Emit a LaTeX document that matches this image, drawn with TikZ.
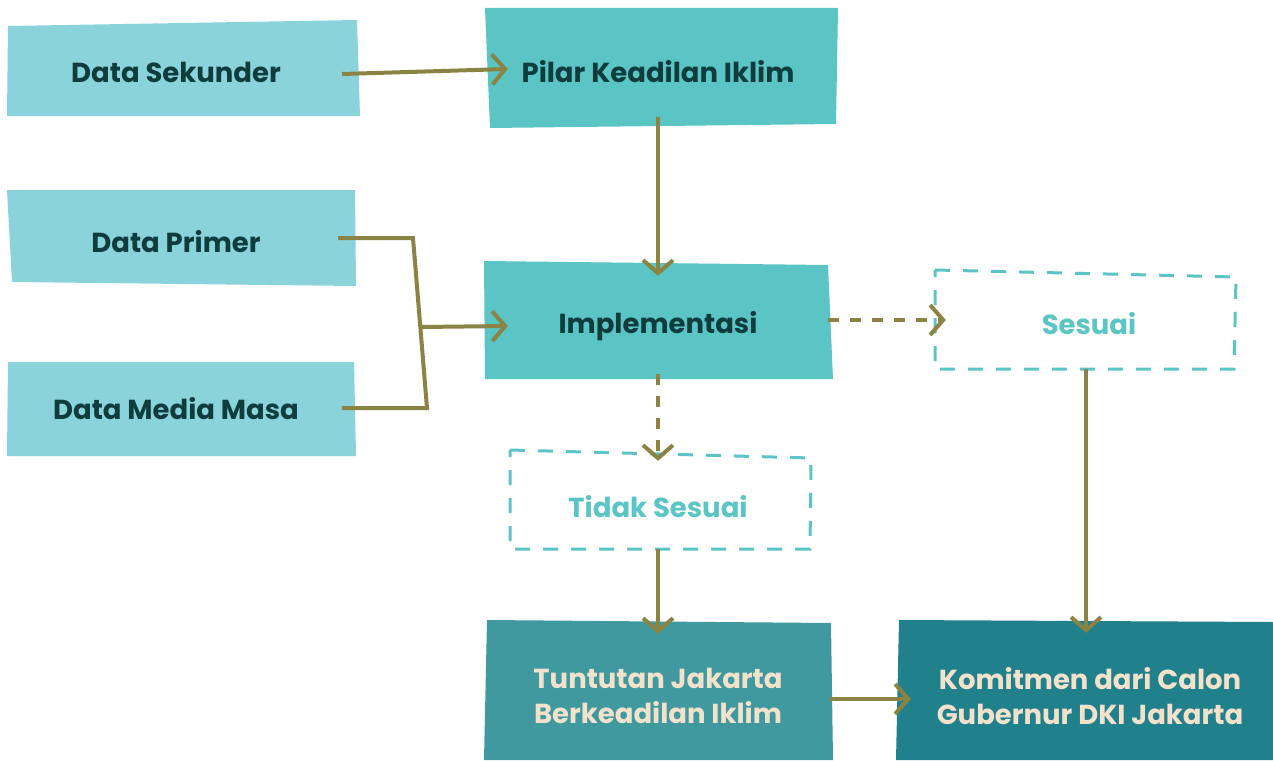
\documentclass[tikz,border=0pt]{standalone}
\usepackage{fontspec}
\setmainfont{Poppins}
\usetikzlibrary{arrows.meta}
\definecolor{lightbox}{HTML}{8AD3DB}
\definecolor{midbox}{HTML}{5BC5C5}
\definecolor{darkbox}{HTML}{3F999E}
\definecolor{deepbox}{HTML}{20808C}
\definecolor{olive}{HTML}{8B8343}
\definecolor{txtdark}{HTML}{0F3D3D}
\definecolor{cream}{HTML}{F3E2CB}
\tikzset{
  lbl/.style={font=\fontsize{27.5}{35}\selectfont\bfseries, align=center, inner sep=0pt, text=txtdark},
  conn/.style={draw=olive, line width=4pt, -{Straight Barb[length=13pt,width=30pt,line width=4pt]}},
  dconn/.style={conn, dash pattern=on 11pt off 11pt},
  plain/.style={draw=olive, line width=4pt, line join=miter},
  dbox/.style={draw=midbox, line width=3pt, dash pattern=on 15pt off 13pt},
}
\begin{document}
\begin{tikzpicture}[x=1pt,y=-1pt]
\useasboundingbox (0,0) rectangle (1273,760);
% box shapes
\fill[lightbox] (8,26) -- (357,20) -- (360,116) -- (7,116) -- cycle;
\fill[midbox] (485,8) -- (838,8) -- (836,124) -- (490,128) -- cycle;
\fill[lightbox] (7,190) -- (355,190) -- (356,286) -- (12,282) -- cycle;
\fill[lightbox] (8,362) -- (354,362) -- (356,456) -- (7,456) -- cycle;
\fill[midbox] (484,261) -- (828,265) -- (833,379) -- (485,379) -- cycle;
\draw[dbox] (935,270) -- (1236,277) -- (1234,369) -- (935,369) -- cycle;
\draw[dbox] (510,450) -- (811,458) -- (810,549) -- (510,549) -- cycle;
\fill[darkbox] (487,620) -- (831,623) -- (833,760) -- (484,760) -- cycle;
\fill[deepbox] (899,620) -- (1273,622) -- (1273,760) -- (896,760) -- cycle;
% nodes
\node[lbl, minimum width=346pt, minimum height=94pt] (ds) at (176,72) {Data Sekunder};
\node[lbl, minimum width=350pt, minimum height=116pt] (pilar) at (658,72) {Pilar Keadilan Iklim};
\node[lbl, minimum width=346pt, minimum height=94pt] (dp) at (176,242) {Data Primer};
\node[lbl, minimum width=346pt, minimum height=94pt] (dm) at (176,409) {Data Media Masa};
\node[lbl, minimum width=348pt, minimum height=116pt] (impl) at (658,326) {Implementasi};
\node[lbl, text=midbox, minimum width=300pt, minimum height=96pt] (ses) at (1089,324) {Sesuai};
\node[lbl, text=midbox, minimum width=300pt, minimum height=96pt] (tid) at (658,507) {Tidak Sesuai};
\node[lbl, text=cream, minimum width=348pt, minimum height=140pt] (tun) at (658,696) {Tuntutan Jakarta\\Berkeadilan Iklim};
\node[lbl, text=cream, minimum width=376pt, minimum height=140pt] (kom) at (1090,696) {Komitmen dari Calon\\Gubernur DKI Jakarta};
% junction points
\coordinate (jt) at (413,238);
\coordinate (jb) at (427,408);
\coordinate (jm) at (420,327);
% connectors
\draw[conn] ([xshift=-7pt,yshift=-2pt]ds.east) -- ([xshift=25pt,yshift=3pt]pilar.west);
\draw[conn] ([yshift=13pt]pilar.south) -- ([yshift=-8pt]impl.north);
\draw[plain] ([xshift=-11pt,yshift=4pt]dp.east) -- (jt) -- (jb) -- ([xshift=-7pt,yshift=1pt]dm.east);
\draw[conn] (jm) -- ([xshift=24pt]impl.west);
\draw[dconn] ([xshift=-4pt,yshift=6pt]impl.east) -- ([xshift=7pt,yshift=4pt]ses.west);
\draw[dconn] ([yshift=10pt]impl.south) -- ([yshift=-2pt]tid.north);
\draw[conn] ([yshift=6pt]tid.south) -- ([yshift=-8pt]tun.north);
\draw[conn] ([xshift=-3pt,yshift=3pt]ses.south) -- ([xshift=-3pt,yshift=-7pt]ses.south |- kom.north);
\draw[conn] ([xshift=-2pt,yshift=-3pt]tun.east) -- ([xshift=9pt,yshift=-3pt]kom.west);
\end{tikzpicture}
\end{document}
